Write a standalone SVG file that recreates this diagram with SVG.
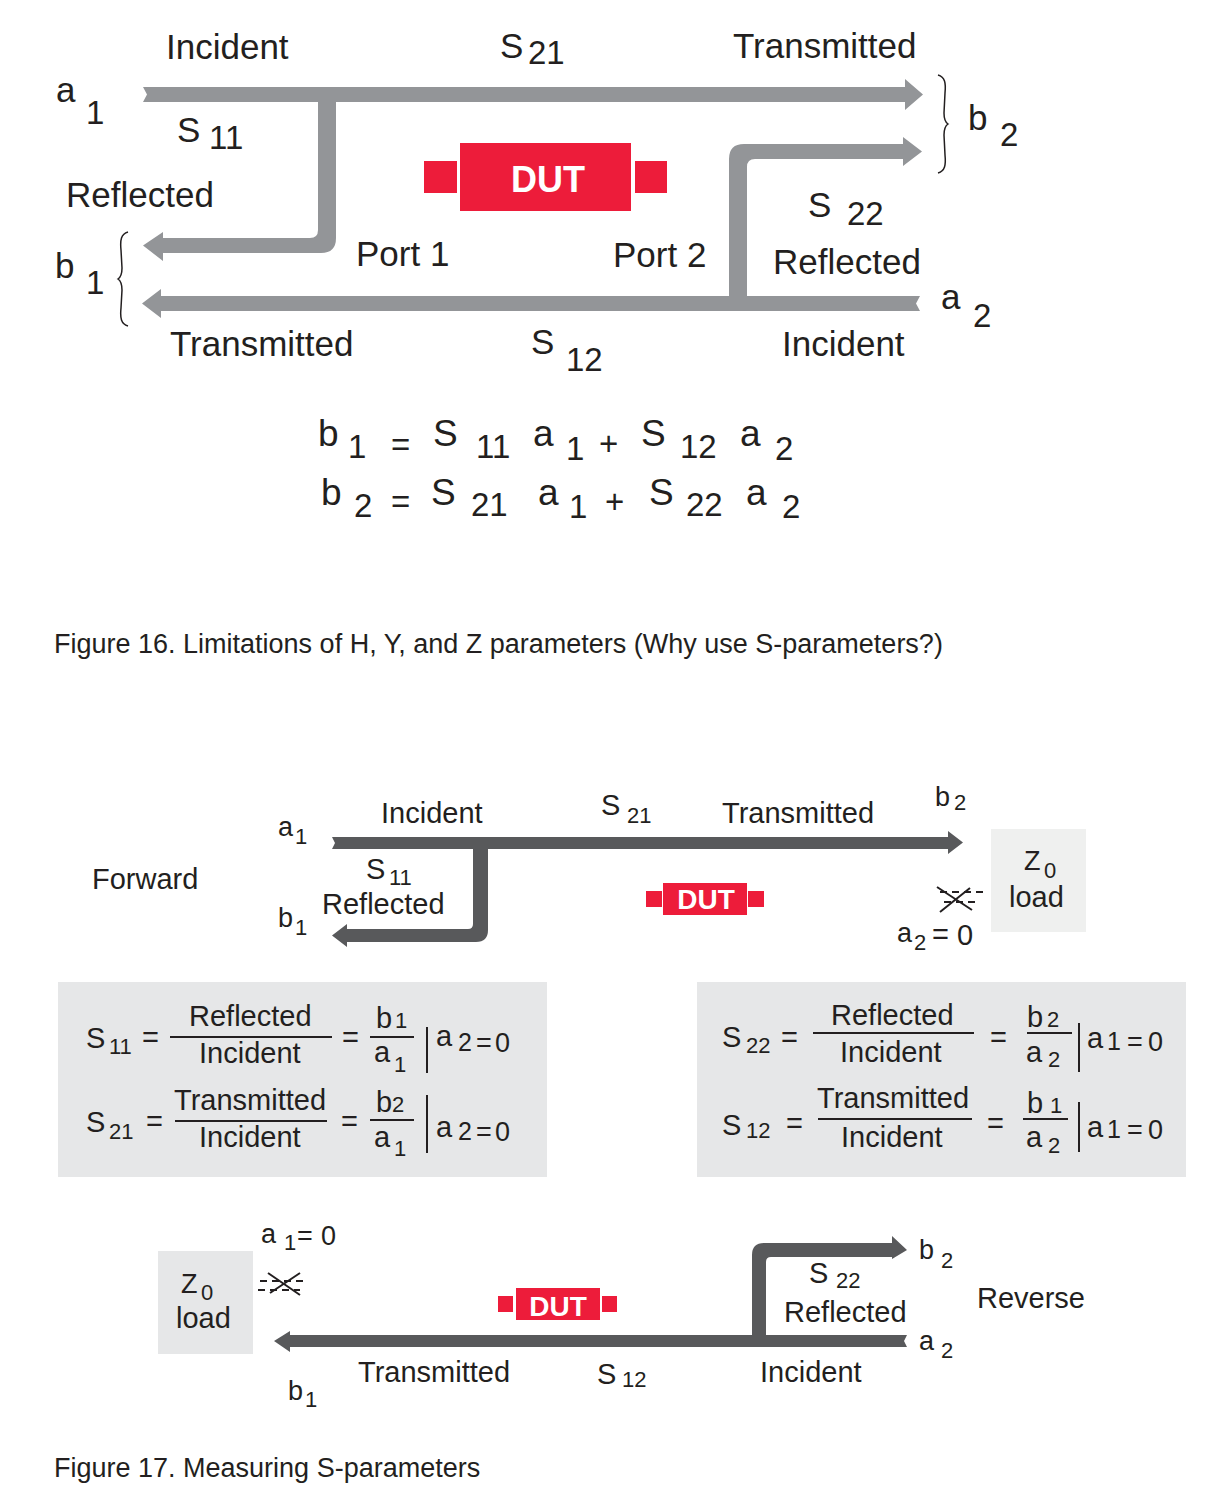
<svg xmlns="http://www.w3.org/2000/svg" width="1222" height="1512" viewBox="0 0 1222 1512">
<style>
text{font-family:"Liberation Sans",Arial,Helvetica,sans-serif;fill:#231f20}
.l{font-size:35px}.ls{font-size:33px}
.e{font-size:37px}.es{font-size:33px}
.m{font-size:29px}.ms{font-size:22px}.mm{font-size:27px}.mq{font-size:25px}
.cap{font-size:27px}
.dut{fill:#ffffff;font-weight:bold;text-anchor:middle}
.red{fill:#ed1c3a}
.g1{fill:#939598}.g2{fill:#58595b}
.box{fill:#e6e7e8}
.ln{stroke:#231f20;stroke-width:2;fill:none}
.br{stroke:#231f20;stroke-width:1.5;fill:none}
.dash{stroke:#231f20;stroke-width:2;stroke-dasharray:7 5;fill:none}
</style>
<rect width="1222" height="1512" fill="#ffffff"/>

<!-- ===== Figure 16 ===== -->
<g id="connectors16">
<path class="g1" d="M143,87 L905,87 L905,79 L923,94.5 L905,110 L905,102 L336,102 L336,238 Q336,253 321,253 L163,253 L163,261 L143,245.5 L163,232 L163,238 L310,238 Q318,238 318,230 L318,102 L143,102 L147,94.5 Z"/>
<path class="g1" d="M920,296 L916,303.5 L920,311 L161,311 L161,318 L142,303.5 L161,289 L161,296 L729,296 L729,159 Q729,144 744,144 L903,144 L903,137 L922,151.5 L903,166 L903,159 L755,159 Q747,159 747,167 L747,296 Z"/>
</g>
<g id="dut16">
<rect class="red" x="424" y="161" width="33" height="32"/>
<rect class="red" x="460" y="143" width="171" height="68"/>
<rect class="red" x="635" y="161" width="32" height="32"/>
<text class="dut" x="548" y="192" style="font-size:36px">DUT</text>
</g>
<g id="braces16">
<path class="br" d="M128,232 C121,234 120,240 121,250 L122,268 C122,274 121,277 118,279 C121,281 122,284 122,290 L121,308 C120,318 121,324 128,326"/>
<path class="br" d="M938,75 C945,77 946,83 945,93 L944,113 C944,119 945,122 948,124 C945,126 944,129 944,135 L945,155 C946,165 945,171 938,173"/>
</g>
<g id="labels16">
<text class="l" x="166" y="59">Incident</text>
<text class="l" x="500" y="58">S</text><text class="ls" x="528" y="64">21</text>
<text class="l" x="733" y="58">Transmitted</text>
<text class="l" x="56" y="102">a</text><text class="ls" x="86" y="124">1</text>
<text class="l" x="177" y="142">S</text><text class="ls" x="209" y="149">11</text>
<text class="l" x="66" y="207">Reflected</text>
<text class="l" x="55" y="278">b</text><text class="ls" x="86" y="294">1</text>
<text class="l" x="356" y="266">Port 1</text>
<text class="l" x="613" y="267">Port 2</text>
<text class="l" x="170" y="356">Transmitted</text>
<text class="l" x="531" y="354">S</text><text class="ls" x="566" y="371">12</text>
<text class="l" x="808" y="217">S</text><text class="ls" x="847" y="225">22</text>
<text class="l" x="773" y="274">Reflected</text>
<text class="l" x="782" y="356">Incident</text>
<text class="l" x="941" y="309">a</text><text class="ls" x="973" y="327">2</text>
<text class="l" x="968" y="130">b</text><text class="ls" x="1000" y="146">2</text>
</g>
<g id="equations16">
<text class="e" x="318" y="446">b</text><text class="es" x="348" y="458">1</text>
<text class="es" x="391" y="456">=</text>
<text class="e" x="433" y="446">S</text><text class="es" x="476" y="458">11</text>
<text class="e" x="533" y="446">a</text><text class="es" x="566" y="460">1</text>
<text class="es" x="599" y="455">+</text>
<text class="e" x="641" y="446">S</text><text class="es" x="680" y="458">12</text>
<text class="e" x="740" y="446">a</text><text class="es" x="775" y="460">2</text>

<text class="e" x="321" y="505">b</text><text class="es" x="354" y="517">2</text>
<text class="es" x="391" y="513">=</text>
<text class="e" x="431" y="505">S</text><text class="es" x="471" y="516">21</text>
<text class="e" x="538" y="505">a</text><text class="es" x="569" y="518">1</text>
<text class="es" x="605" y="513">+</text>
<text class="e" x="649" y="505">S</text><text class="es" x="686" y="516">22</text>
<text class="e" x="746" y="505">a</text><text class="es" x="782" y="518">2</text>
</g>
<text class="cap" x="54" y="653">Figure 16. Limitations of H, Y, and Z parameters (Why use S-parameters?)</text>

<!-- ===== Figure 17 ===== -->
<g id="connectors17">
<path class="g2" d="M332,837 L948,837 L948,831 L963,842.5 L948,854 L948,849 L488,849 L488,930 Q488,942 476,942 L347,942 L347,947 L332,935.5 L347,924 L347,929 L468,929 Q473,929 473,924 L473,849 L332,849 L335,843 Z"/>
<path class="g2" d="M907,1335 L904,1341 L907,1347 L290,1347 L290,1352 L274,1341 L290,1331 L290,1335 L752,1335 L752,1255 Q752,1243 764,1243 L892,1243 L892,1236 L907,1250 L892,1259 L892,1257 L771,1257 Q766,1257 766,1262 L766,1335 Z"/>
</g>
<g id="dut17f">
<rect class="red" x="646" y="891" width="16" height="16"/>
<rect class="red" x="663" y="883" width="84" height="32"/>
<rect class="red" x="748" y="891" width="16" height="16"/>
<text class="dut" x="706" y="909" style="font-size:28px">DUT</text>
</g>
<g id="dut17r">
<rect class="red" x="498" y="1296" width="15" height="16"/>
<rect class="red" x="516" y="1288" width="84" height="32"/>
<rect class="red" x="602" y="1296" width="15" height="16"/>
<text class="dut" x="558" y="1316" style="font-size:28px">DUT</text>
</g>
<g id="load-right">
<rect x="991" y="829" width="95" height="103" fill="#eff0ef"/>
<text class="mm" x="1024" y="870">Z</text><text class="ms" x="1044" y="878">0</text>
<text class="m" x="1009" y="907">load</text>
</g>
<g id="load-left">
<rect x="158" y="1251" width="95" height="103" fill="#e6e7e8"/>
<text class="mm" x="181" y="1293">Z</text><text class="ms" x="201" y="1300">0</text>
<text class="m" x="176" y="1328">load</text>
</g>
<g id="cross-right">
<path class="dash" d="M940,892 L984,892 M944,902 L978,902"/>
<path class="ln" d="M937,887 L972,910 M940,912 L970,888"/>
</g>
<g id="cross-left">
<path class="dash" d="M260,1281 L305,1281 M258,1290 L300,1290"/>
<path class="ln" d="M268,1273 L300,1295 M270,1293 L300,1273"/>
</g>
<g id="labels17f">
<text class="m" x="92" y="889">Forward</text>
<text class="mm" x="278" y="836">a</text><text class="ms" x="295" y="844">1</text>
<text class="m" x="381" y="823">Incident</text>
<text class="m" x="601" y="815">S</text><text class="ms" x="627" y="823">21</text>
<text class="m" x="722" y="823">Transmitted</text>
<text class="mm" x="935" y="806">b</text><text class="ms" x="954" y="810">2</text>
<text class="m" x="366" y="879">S</text><text class="ms" x="389" y="885">11</text>
<text class="m" x="322" y="914">Reflected</text>
<text class="mm" x="278" y="927">b</text><text class="ms" x="295" y="935">1</text>
<text class="mm" x="897" y="942">a</text><text class="ms" x="914" y="950">2</text>
<text class="m" x="932" y="944">=</text><text class="m" x="957" y="945">0</text>
</g>
<g id="eqbox-left">
<rect class="box" x="58" y="982" width="489" height="195"/>
<text class="m" x="86" y="1048">S</text><text class="ms" x="109" y="1054">11</text>
<text class="m" x="142" y="1047">=</text>
<text class="m" x="189" y="1026">Reflected</text>
<line class="ln" x1="170" y1="1037" x2="332" y2="1037"/>
<text class="m" x="199" y="1063">Incident</text>
<text class="m" x="342" y="1047">=</text>
<text class="m" x="376" y="1028">b</text><text class="ms" x="395" y="1028">1</text>
<line class="ln" x1="370" y1="1037" x2="414" y2="1037"/>
<text class="m" x="374" y="1062">a</text><text class="ms" x="394" y="1072">1</text>
<line class="ln" x1="427" y1="1027" x2="427" y2="1073"/>
<text class="m" x="436" y="1046">a</text><text class="mq" x="458" y="1051">2</text><text class="mm" x="476" y="1052">=</text><text class="mm" x="495" y="1052">0</text>

<text class="m" x="86" y="1132">S</text><text class="ms" x="109" y="1139">21</text>
<text class="m" x="146" y="1131">=</text>
<text class="m" x="174" y="1110">Transmitted</text>
<line class="ln" x1="175" y1="1121" x2="327" y2="1121"/>
<text class="m" x="199" y="1147">Incident</text>
<text class="m" x="341" y="1131">=</text>
<text class="m" x="376" y="1112">b</text><text class="ms" x="392" y="1112">2</text>
<line class="ln" x1="370" y1="1120" x2="414" y2="1120"/>
<text class="m" x="374" y="1147">a</text><text class="ms" x="394" y="1156">1</text>
<line class="ln" x1="427" y1="1095" x2="427" y2="1153"/>
<text class="m" x="436" y="1137">a</text><text class="mq" x="458" y="1140">2</text><text class="mm" x="476" y="1141">=</text><text class="mm" x="495" y="1141">0</text>
</g>
<g id="eqbox-right">
<rect class="box" x="697" y="982" width="489" height="195"/>
<text class="m" x="722" y="1047">S</text><text class="ms" x="746" y="1053">22</text>
<text class="m" x="781" y="1047">=</text>
<text class="m" x="831" y="1025">Reflected</text>
<line class="ln" x1="813" y1="1033" x2="974" y2="1033"/>
<text class="m" x="840" y="1062">Incident</text>
<text class="m" x="990" y="1047">=</text>
<text class="m" x="1027" y="1027">b</text><text class="ms" x="1047" y="1027">2</text>
<line class="ln" x1="1027" y1="1033" x2="1072" y2="1033"/>
<text class="m" x="1026" y="1062">a</text><text class="ms" x="1048" y="1067">2</text>
<line class="ln" x1="1079" y1="1023" x2="1079" y2="1072"/>
<text class="m" x="1087" y="1048">a</text><text class="mq" x="1107" y="1050">1</text><text class="mm" x="1127" y="1051">=</text><text class="mm" x="1148" y="1051">0</text>

<text class="m" x="722" y="1135">S</text><text class="ms" x="746" y="1138">12</text>
<text class="m" x="786" y="1133">=</text>
<text class="m" x="817" y="1108">Transmitted</text>
<line class="ln" x1="818" y1="1119" x2="972" y2="1119"/>
<text class="m" x="841" y="1147">Incident</text>
<text class="m" x="987" y="1133">=</text>
<text class="m" x="1027" y="1113">b</text><text class="ms" x="1050" y="1113">1</text>
<line class="ln" x1="1023" y1="1119" x2="1068" y2="1119"/>
<text class="m" x="1026" y="1147">a</text><text class="ms" x="1048" y="1153">2</text>
<line class="ln" x1="1079" y1="1102" x2="1079" y2="1152"/>
<text class="m" x="1087" y="1137">a</text><text class="mq" x="1107" y="1138">1</text><text class="mm" x="1127" y="1139">=</text><text class="mm" x="1148" y="1139">0</text>
</g>
<g id="labels17r">
<text class="mm" x="261" y="1243">a</text><text class="ms" x="284" y="1250">1</text>
<text class="mm" x="297" y="1245">=</text><text class="mm" x="321" y="1245">0</text>
<text class="m" x="358" y="1382">Transmitted</text>
<text class="mm" x="288" y="1400">b</text><text class="ms" x="305" y="1407">1</text>
<text class="m" x="597" y="1384">S</text><text class="ms" x="622" y="1387">12</text>
<text class="m" x="760" y="1382">Incident</text>
<text class="m" x="809" y="1283">S</text><text class="ms" x="836" y="1288">22</text>
<text class="m" x="784" y="1322">Reflected</text>
<text class="mm" x="919" y="1259">b</text><text class="ms" x="941" y="1268">2</text>
<text class="mm" x="919" y="1350">a</text><text class="ms" x="941" y="1358">2</text>
<text class="m" x="977" y="1308">Reverse</text>
</g>
<text class="cap" x="54" y="1477">Figure 17. Measuring S-parameters</text>
</svg>
